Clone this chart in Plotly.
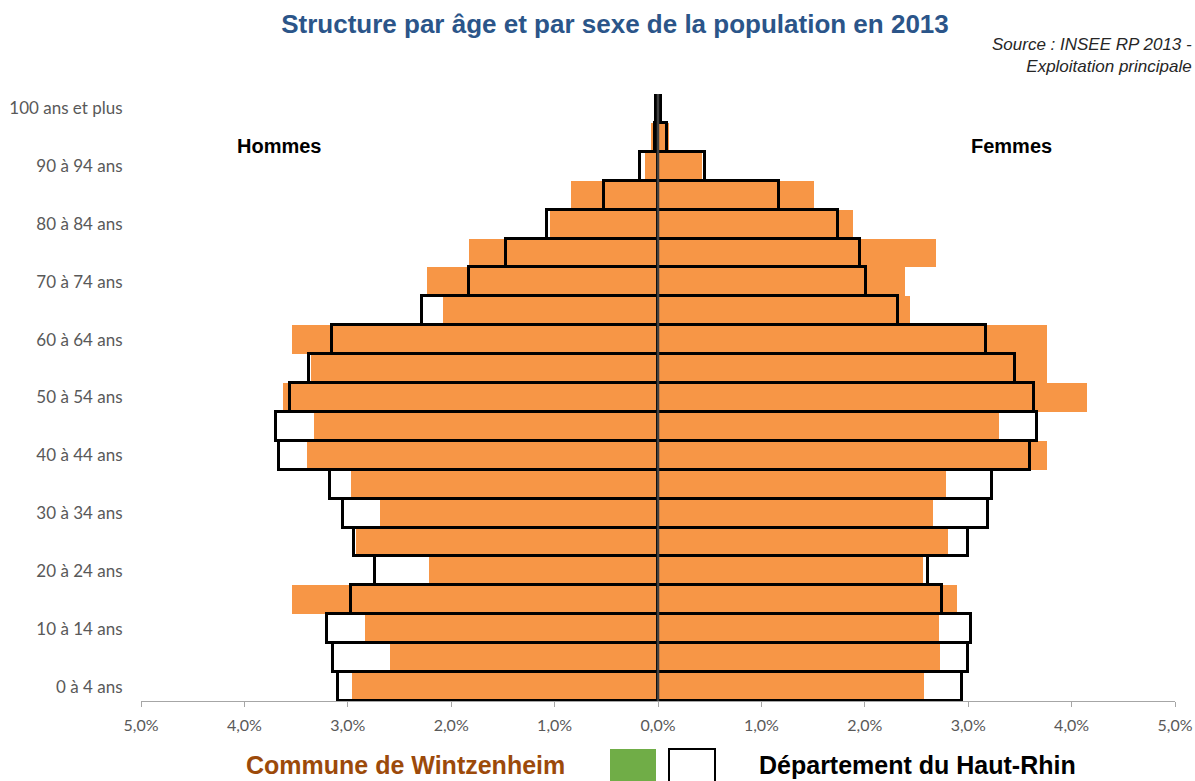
import plotly.graph_objects as go

# Age groups, youngest first (bottom of the pyramid)
age_groups = [
    "0 à 4 ans", "5 à 9 ans", "10 à 14 ans", "15 à 19 ans", "20 à 24 ans",
    "25 à 29 ans", "30 à 34 ans", "35 à 39 ans", "40 à 44 ans", "45 à 49 ans",
    "50 à 54 ans", "55 à 59 ans", "60 à 64 ans", "65 à 69 ans", "70 à 74 ans",
    "75 à 79 ans", "80 à 84 ans", "85 à 89 ans", "90 à 94 ans", "95 à 99 ans",
    "100 ans et plus",
]

# Share of total population (%), Commune de Wintzenheim
commune_hommes = [2.96, 2.59, 2.83, 3.54, 2.21, 2.92, 2.69, 2.97, 3.39, 3.33,
                  3.63, 3.36, 3.54, 2.08, 2.23, 1.83, 1.04, 0.84, 0.13, 0.07, 0.00]
commune_femmes = [2.57, 2.73, 2.72, 2.89, 2.56, 2.80, 2.66, 2.79, 3.76, 3.30,
                  4.15, 3.76, 3.76, 2.44, 2.39, 2.69, 1.89, 1.51, 0.43, 0.11, 0.00]

# Share of total population (%), Département du Haut-Rhin
dept_hommes = [3.09, 3.14, 3.20, 2.97, 2.74, 2.94, 3.05, 3.17, 3.67, 3.69,
               3.56, 3.38, 3.15, 2.28, 1.83, 1.47, 1.07, 0.52, 0.17, 0.03, 0.02]
dept_femmes = [2.94, 3.00, 3.03, 2.75, 2.61, 3.00, 3.19, 3.23, 3.60, 3.67,
               3.64, 3.45, 3.17, 2.32, 2.01, 1.95, 1.74, 1.17, 0.45, 0.09, 0.03]

x_ticks = [-5, -4, -3, -2, -1, 0, 1, 2, 3, 4, 5]
x_tick_labels = ["5,0%", "4,0%", "3,0%", "2,0%", "1,0%", "0,0%",
                 "1,0%", "2,0%", "3,0%", "4,0%", "5,0%"]

ORANGE = "#F79646"
W, H = 1195, 781
ML, MR, MT, MB = 141, 20, 94, 80
PW, PH = W - ML - MR, H - MT - MB


def px(x):
    return (x - ML) / PW


def py(y):
    return (H - MB - y) / PH


rows = list(range(len(age_groups)))

fig = go.Figure()

# Commune bars (men drawn to the left)
fig.add_trace(go.Bar(
    y=rows, x=[-v for v in commune_hommes], base=0, orientation="h",
    width=1, marker=dict(color=ORANGE, line=dict(width=0)),
    name="Commune de Wintzenheim", hoverinfo="skip",
))
fig.add_trace(go.Bar(
    y=rows, x=commune_femmes, base=0, orientation="h",
    width=1, marker=dict(color=ORANGE, line=dict(width=0)),
    showlegend=False, hoverinfo="skip",
))

# Département outlines on top
fig.add_trace(go.Bar(
    y=rows, x=[-v for v in dept_hommes], base=0, orientation="h",
    width=1, marker=dict(color="rgba(0,0,0,0)", line=dict(color="black", width=3)),
    name="Département du Haut-Rhin", hoverinfo="skip",
))
fig.add_trace(go.Bar(
    y=rows, x=dept_femmes, base=0, orientation="h",
    width=1, marker=dict(color="rgba(0,0,0,0)", line=dict(color="black", width=3)),
    showlegend=False, hoverinfo="skip",
))

tick_family = "Lato, Carlito, Calibri, sans-serif"
bold_family = "Liberation Sans, Arial, sans-serif"

fig.update_layout(
    width=W, height=H,
    margin=dict(l=ML, r=MR, t=MT, b=MB),
    paper_bgcolor="white", plot_bgcolor="white",
    barmode="overlay", bargap=0,
    showlegend=False,
    title=dict(
        text="<b>Structure par âge et par sexe de la population en 2013</b>",
        font=dict(family=bold_family, size=26, color="#2B5589"),
        xref="container", yref="container",
        x=615 / W, y=1 - 24 / H, xanchor="center", yanchor="middle",
    ),
    xaxis=dict(
        range=[-5, 5], tickvals=x_ticks, ticktext=x_tick_labels,
        showgrid=False, zeroline=False, automargin=False,
        showline=True, linecolor="#A6A6A6", linewidth=1,
        ticks="outside", ticklen=5, tickcolor="#A6A6A6",
        ticklabelstandoff=5,
        tickfont=dict(family=tick_family, size=16, color="#595959"),
        fixedrange=True,
    ),
    yaxis=dict(
        range=[-0.5, len(age_groups) - 0.5],
        tickvals=rows[::2], ticktext=age_groups[::2],
        showgrid=False, zeroline=False, showline=False, automargin=False,
        ticks="outside", ticklen=14, tickcolor="rgba(0,0,0,0)",
        tickfont=dict(family=tick_family, size=17, color="#595959"),
        fixedrange=True,
    ),
    shapes=[
        # central axis at 0
        dict(type="line", xref="x", yref="paper", x0=0, x1=0, y0=0, y1=1,
             line=dict(color="#404040", width=2.5), layer="above"),
        # legend keys
        dict(type="rect", xref="paper", yref="paper",
             x0=px(610), x1=px(656), y0=py(790), y1=py(749),
             fillcolor="#70AD47", line=dict(width=0)),
        dict(type="rect", xref="paper", yref="paper",
             x0=px(669), x1=px(715), y0=py(795), y1=py(749),
             fillcolor="white", line=dict(color="black", width=2)),
    ],
    annotations=[
        dict(text="<i>Source : INSEE RP 2013 -<br>Exploitation principale</i>",
             xref="paper", yref="paper", x=px(1194), y=py(56),
             xanchor="right", yanchor="middle", align="right", showarrow=False,
             font=dict(family="Liberation Sans, Arial, sans-serif",
                       size=17, color="#262626"),
             ),
        dict(text="<b>Hommes</b>", xref="x", yref="paper", x=-3.67, y=py(146),
             showarrow=False, xanchor="center", yanchor="middle",
             font=dict(family=bold_family, size=20, color="black")),
        dict(text="<b>Femmes</b>", xref="x", yref="paper", x=3.42, y=py(146),
             showarrow=False, xanchor="center", yanchor="middle",
             font=dict(family=bold_family, size=20, color="black")),
        dict(text="<b>Commune de Wintzenheim</b>", xref="paper", yref="paper",
             x=px(405), y=py(765), showarrow=False, xanchor="center", yanchor="middle",
             font=dict(family=bold_family, size=25, color="#9C4A0A")),
        dict(text="<b>Département du Haut-Rhin</b>", xref="paper", yref="paper",
             x=px(917), y=py(765), showarrow=False, xanchor="center", yanchor="middle",
             font=dict(family=bold_family, size=25, color="black")),
    ],
)

fig.write_html("out.html")
